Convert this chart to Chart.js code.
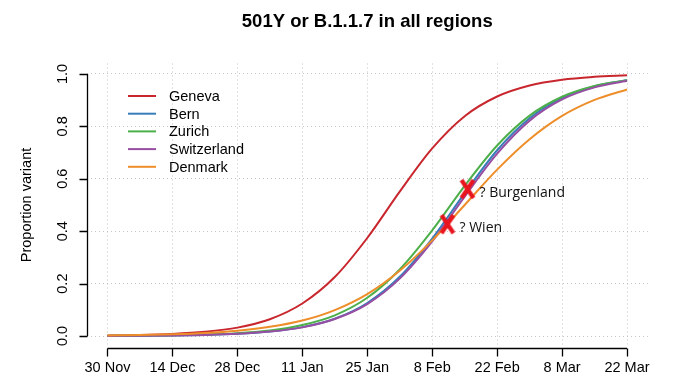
<!DOCTYPE html>
<html lang="en">
<head>
    <meta charset="UTF-8">
    <title>501Y or B.1.1.7 in all regions</title>
    <script src="https://cdn.jsdelivr.net/npm/chart.js"></script>
    <style>
        body {
            margin: 0;
            background-color: white;
        }
        canvas {
            display: block;
        }
    </style>
</head>
<body>
    <canvas id="chart" width="675" height="391"></canvas>

    <script>
        // days since 30 Nov, one sample per week
        const days = [0, 7, 14, 21, 28, 35, 42, 49, 56, 63, 70, 77, 84, 91, 98, 105, 112];

        const geneva = [0.0019, 0.0038, 0.0078, 0.016, 0.032, 0.064, 0.124, 0.225, 0.374, 0.551, 0.716, 0.839, 0.914, 0.956, 0.978, 0.989, 0.995];
        const bern = [0.0005, 0.001, 0.0021, 0.0042, 0.0084, 0.017, 0.034, 0.066, 0.126, 0.226, 0.372, 0.545, 0.709, 0.831, 0.909, 0.953, 0.976];
        const zurich = [0.0007, 0.0014, 0.0028, 0.0055, 0.011, 0.021, 0.042, 0.079, 0.146, 0.254, 0.403, 0.573, 0.727, 0.841, 0.913, 0.954, 0.976];
        const switzerland = [0.0005, 0.001, 0.0021, 0.0042, 0.0084, 0.0168, 0.033, 0.065, 0.122, 0.219, 0.361, 0.532, 0.696, 0.822, 0.903, 0.949, 0.974];
        const denmark = [0.0023, 0.004, 0.0069, 0.0118, 0.0204, 0.035, 0.059, 0.099, 0.16, 0.249, 0.365, 0.5, 0.635, 0.751, 0.84, 0.901, 0.941];

        const regionNames = ['Geneva', 'Bern', 'Zurich', 'Switzerland', 'Denmark'];
        const regionColors = ['#c8272e', '#377eb8', '#4daf4a', '#984ea3', '#ee8e2a'];

        // Austrian observations marked with a red X
        const obsNames = ['Burgenland', 'Wien'];
        const obsDays = [77.6, 73.3];
        const obsValues = [0.561, 0.427];

        const xTicks = [0, 14, 28, 42, 56, 70, 84, 98, 112];
        const xTickLabels = ['30 Nov', '14 Dec', '28 Dec', '11 Jan', '25 Jan', '8 Feb', '22 Feb', '8 Mar', '22 Mar'];
        const yTicks = [0, 0.2, 0.4, 0.6, 0.8, 1.0];
        const yTickLabels = ['0.0', '0.2', '0.4', '0.6', '0.8', '1.0'];

        const font = '14.5px "Liberation Sans", Arial, sans-serif';

        // red X used as point style
        const xMark = document.createElement('canvas');
        xMark.width = 18;
        xMark.height = 22;
        const xm = xMark.getContext('2d');
        xm.strokeStyle = '#e8141e';
        xm.lineWidth = 4.2;
        xm.beginPath();
        xm.moveTo(3, 2);
        xm.lineTo(15, 20);
        xm.moveTo(15, 2);
        xm.lineTo(3, 20);
        xm.stroke();

        const series = [geneva, bern, zurich, switzerland, denmark];
        const datasets = series.map((vals, i) => ({
            label: regionNames[i],
            data: days.map((d, j) => ({ x: d, y: vals[j] })),
            borderColor: regionColors[i],
            borderWidth: 2,
            pointRadius: 0,
            cubicInterpolationMode: 'monotone',
            fill: false,
            order: series.length - i
        }));
        datasets.push({
            label: 'obs',
            type: 'scatter',
            data: obsDays.map((d, i) => ({ x: d, y: obsValues[i] })),
            pointStyle: xMark,
            pointRadius: 10,
            showLine: false,
            order: 0
        });

        // R style detached axes, labels, title, legend and notes
        const rStyle = {
            id: 'rStyle',
            afterDraw(chart) {
                const { ctx, chartArea: a, scales: { x, y } } = chart;
                ctx.save();
                ctx.strokeStyle = '#000';
                ctx.fillStyle = '#000';
                ctx.lineWidth = 1.3;

                const yl = Math.round(a.left) + 0.5;
                const xb = Math.round(a.bottom) + 1.5;
                ctx.beginPath();
                ctx.moveTo(yl, y.getPixelForValue(0));
                ctx.lineTo(yl, y.getPixelForValue(1));
                yTicks.forEach(v => {
                    const py = Math.round(y.getPixelForValue(v)) + 0.5;
                    ctx.moveTo(yl, py);
                    ctx.lineTo(yl - 8, py);
                });
                ctx.moveTo(x.getPixelForValue(xTicks[0]), xb);
                ctx.lineTo(x.getPixelForValue(xTicks[xTicks.length - 1]), xb);
                xTicks.forEach(v => {
                    const px = Math.round(x.getPixelForValue(v)) + 0.5;
                    ctx.moveTo(px, xb);
                    ctx.lineTo(px, xb + 8);
                });
                ctx.stroke();

                ctx.font = font;
                ctx.textAlign = 'center';
                ctx.textBaseline = 'middle';
                xTicks.forEach((v, i) => {
                    ctx.fillText(xTickLabels[i], x.getPixelForValue(v), xb + 19);
                });
                yTicks.forEach((v, i) => {
                    ctx.save();
                    ctx.translate(a.left - 24, y.getPixelForValue(v));
                    ctx.rotate(-Math.PI / 2);
                    ctx.fillText(yTickLabels[i], 0, 0);
                    ctx.restore();
                });
                ctx.save();
                ctx.translate(27, (a.top + a.bottom) / 2);
                ctx.rotate(-Math.PI / 2);
                ctx.fillText('Proportion variant', 0, 0);
                ctx.restore();

                ctx.font = 'bold 18.5px "Liberation Sans", Arial, sans-serif';
                ctx.fillText('501Y or B.1.1.7 in all regions', (a.left + a.right) / 2, 22);

                // legend
                ctx.font = font;
                ctx.textAlign = 'left';
                regionNames.forEach((name, i) => {
                    const ly = 96 + i * 17.7;
                    ctx.strokeStyle = regionColors[i];
                    ctx.lineWidth = 2;
                    ctx.beginPath();
                    ctx.moveTo(128, ly);
                    ctx.lineTo(156, ly);
                    ctx.stroke();
                    ctx.fillText(name, 169, ly + 1);
                });

                // notes beside the X marks
                ctx.font = '14px "Open Sans", sans-serif';
                ctx.fillStyle = '#111';
                obsNames.forEach((name, i) => {
                    ctx.fillText('? ' + name, x.getPixelForValue(obsDays[i]) + 12,
                        y.getPixelForValue(obsValues[i]) + 4);
                });
                ctx.restore();
            }
        };

        const grid = {
            color: '#c4c4c4',
            lineWidth: 1,
            drawTicks: false
        };
        const noBorder = { display: false, dash: [1, 3] };

        new Chart(document.getElementById('chart'), {
            type: 'line',
            data: { datasets: datasets },
            options: {
                responsive: false,
                animation: false,
                devicePixelRatio: 1,
                layout: {
                    padding: { left: 86.7, right: 27.2, top: 63.5, bottom: 44.5 }
                },
                plugins: {
                    legend: { display: false },
                    title: { display: false },
                    tooltip: { enabled: false }
                },
                scales: {
                    x: {
                        type: 'linear',
                        min: -4.48,
                        max: 116.48,
                        afterBuildTicks: s => { s.ticks = xTicks.map(v => ({ value: v })); },
                        ticks: { display: false },
                        grid: grid,
                        border: noBorder
                    },
                    y: {
                        min: -0.04,
                        max: 1.04,
                        afterBuildTicks: s => { s.ticks = yTicks.map(v => ({ value: v })); },
                        ticks: { display: false },
                        grid: grid,
                        border: noBorder
                    }
                }
            },
            plugins: [rStyle]
        });
    </script>
</body>
</html>
